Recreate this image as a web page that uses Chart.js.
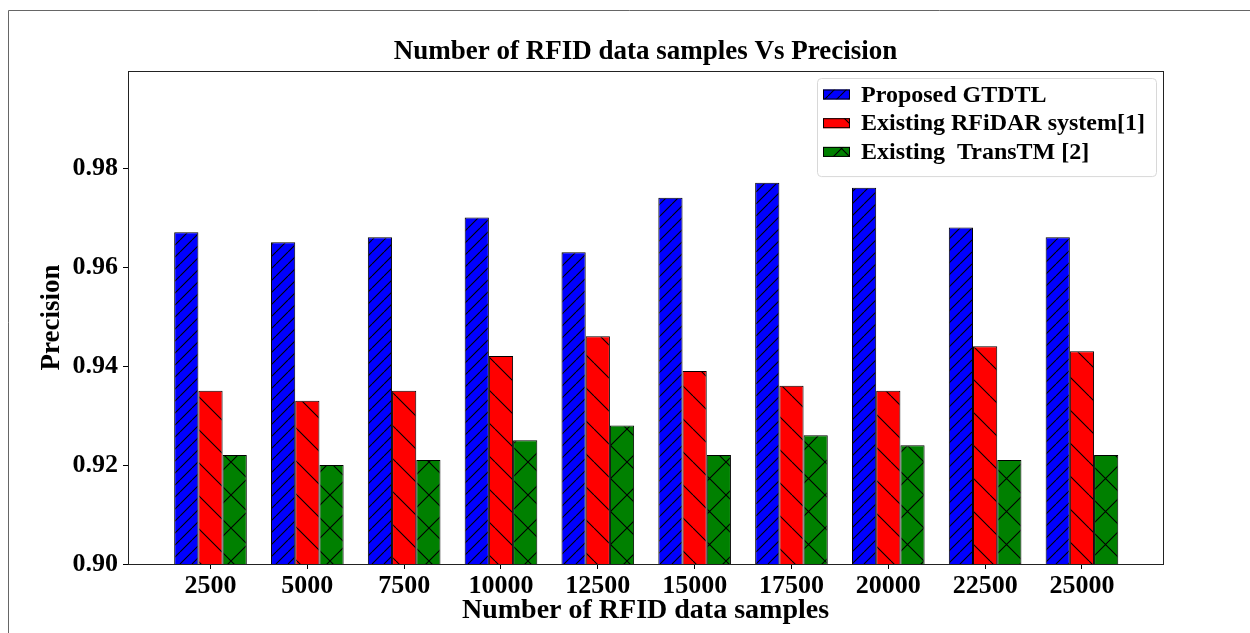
<!DOCTYPE html>
<html>
<head>
<meta charset="utf-8">
<script src="https://cdn.jsdelivr.net/npm/chart.js@4/dist/chart.umd.min.js"></script>
<style>
  body { margin: 0; background: #fff; }
  canvas { display: block; }
</style>
</head>
<body>
<canvas id="myChart" width="1250" height="633"></canvas>
<script>
const categories = ['2500', '5000', '7500', '10000', '12500', '15000', '17500', '20000', '22500', '25000']
const proposed   = [0.967, 0.965, 0.966, 0.970, 0.963, 0.974, 0.977, 0.976, 0.968, 0.966]
const rfidar     = [0.935, 0.933, 0.935, 0.942, 0.946, 0.939, 0.936, 0.935, 0.944, 0.943]
const transtm    = [0.922, 0.920, 0.921, 0.925, 0.928, 0.922, 0.926, 0.924, 0.921, 0.922]
const yTicks     = [0.90, 0.92, 0.94, 0.96, 0.98]

const serif = "'Liberation Serif', 'Times New Roman', serif"

// hatch fills like matplotlib's '///', '\' and 'x'
const hatch = (color, kind, size) => {
	const c = document.createElement('canvas')
	c.width = size
	c.height = size
	const g = c.getContext('2d')
	g.fillStyle = color
	g.fillRect(0, 0, size, size)
	g.strokeStyle = '#000'
	g.lineWidth = 1.1
	g.beginPath()
	for (const o of [-size, 0, size]) {
		if (kind == '/' || kind == 'x') {
			g.moveTo(o, size)
			g.lineTo(o + size, 0)
		}
		if (kind == '\\' || kind == 'x') {
			g.moveTo(o, 0)
			g.lineTo(o + size, size)
		}
	}
	g.stroke()
	return g.createPattern(c, 'repeat')
}

const toPoints = arr => arr.map((v, i) => ({ x: i, y: v }))

/* frame around the plot + outer border */
const framePlugin = {
	id: 'frame',
	afterDraw(chart) {
		const { ctx, chartArea: a } = chart
		ctx.save()
		ctx.strokeStyle = '#222'
		ctx.lineWidth = 1
		ctx.strokeRect(Math.round(a.left) + 0.5, Math.round(a.top) + 0.5, Math.round(a.right - a.left), Math.round(a.bottom - a.top))
		ctx.strokeStyle = '#666'
		ctx.beginPath()
		ctx.moveTo(8.5, 640)
		ctx.lineTo(8.5, 10.5)
		ctx.lineTo(1250, 10.5)
		ctx.stroke()
		ctx.restore()
	}
}

/* legend in the upper right corner, inside the plot */
const innerLegend = {
	id: 'innerLegend',
	afterDraw(chart) {
		const { ctx, chartArea: a } = chart
		const sets = chart.data.datasets
		const w = 339, rowH = 28.7
		const h = 12 + rowH * sets.length
		const x = a.right - 7 - w, y = a.top + 7
		ctx.save()
		ctx.fillStyle = 'rgba(255,255,255,0.85)'
		ctx.strokeStyle = '#d8d8d8'
		ctx.lineWidth = 1
		ctx.beginPath()
		ctx.roundRect(x + 0.5, y + 0.5, w, h, 4)
		ctx.fill()
		ctx.stroke()
		ctx.font = 'bold 24px ' + serif
		ctx.textBaseline = 'middle'
		sets.forEach((ds, i) => {
			const cy = y + 16.5 + i * rowH
			ctx.fillStyle = ds.backgroundColor
			ctx.fillRect(x + 6, cy - 5, 27, 10)
			ctx.strokeStyle = '#000'
			ctx.strokeRect(x + 6.5, cy - 4.5, 26, 9)
			ctx.fillStyle = '#000'
			ctx.fillText(ds.label, x + 44, cy + 1)
		})
		ctx.restore()
	}
}

const ctx = document.getElementById('myChart').getContext('2d')
const chart = new Chart(ctx, {
	type: 'bar',
	data: {
		datasets: [{
			label: 'Proposed GTDTL',
			data: toPoints(proposed),
			backgroundColor: hatch('#0000ff', '/', 12),
			borderColor: '#000',
			borderWidth: 1
		}, {
			label: 'Existing RFiDAR system[1]',
			data: toPoints(rfidar),
			backgroundColor: hatch('#ff0000', '\\', 33),
			borderColor: '#000',
			borderWidth: 1
		}, {
			label: 'Existing  TransTM [2]',
			data: toPoints(transtm),
			backgroundColor: hatch('#008000', 'x', 33),
			borderColor: '#000',
			borderWidth: 1
		}]
	},
	options: {
		responsive: false,
		animation: false,
		devicePixelRatio: 1,
		categoryPercentage: 0.75,
		barPercentage: 1,
		layout: { padding: { left: 0, right: 87, top: 0, bottom: 0 } },
		scales: {
			x: {
				type: 'linear',
				offset: false,
				min: -0.852,
				max: 9.837,
				afterFit: s => { s.height = 633 - 564 },
				afterBuildTicks: s => { s.ticks = categories.map((c, i) => ({ value: i })) },
				ticks: {
					color: '#000',
					padding: 2,
					font: { family: serif, size: 26, weight: 'bold' },
					callback: v => categories[v]
				},
				grid: { offset: false, drawOnChartArea: false, drawTicks: true, tickLength: 5, tickColor: '#000' },
				border: { display: true, color: '#222' },
				title: {
					display: true,
					text: 'Number of RFID data samples',
					color: '#000',
					padding: { top: 0, bottom: 5 },
					font: { family: serif, size: 28, weight: 'bold' }
				}
			},
			y: {
				min: 0.90,
				max: 0.9996,
				afterFit: s => { s.width = 128 },
				afterBuildTicks: s => { s.ticks = yTicks.map(v => ({ value: v })) },
				ticks: {
					color: '#000',
					padding: 5,
					font: { family: serif, size: 26, weight: 'bold' },
					callback: v => v.toFixed(2)
				},
				grid: { drawOnChartArea: false, drawTicks: true, tickLength: 5, tickColor: '#000' },
				border: { display: true, color: '#222' },
				title: {
					display: true,
					text: 'Precision',
					color: '#000',
					padding: { top: 35.8, bottom: 0 },
					font: { family: serif, size: 27, weight: 'bold' }
				}
			}
		},
		plugins: {
			legend: { display: false },
			tooltip: { enabled: false },
			title: {
				display: true,
				fullSize: false, // centred over the plot area
				text: 'Number of RFID data samples Vs Precision',
				color: '#000',
				padding: { top: 35.8, bottom: 2.8 },
				font: { family: serif, size: 27, weight: 'bold' }
			}
		}
	},
	plugins: [framePlugin, innerLegend]
})
</script>
</body>
</html>
